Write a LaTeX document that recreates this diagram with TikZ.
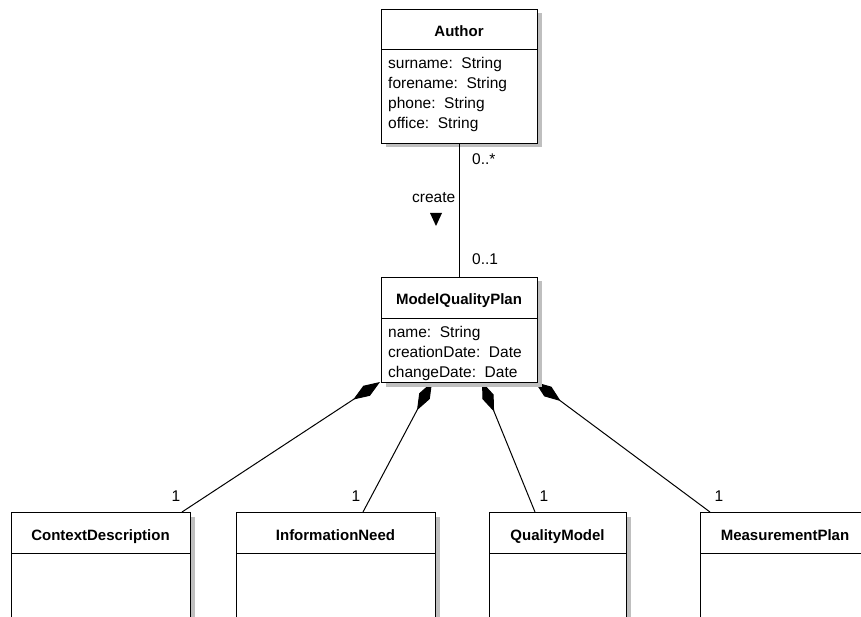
\documentclass[tikz,border=0pt]{standalone}
\usepackage{fontspec}
\setmainfont{Liberation Sans}
\usetikzlibrary{arrows.meta,shadows,calc}

\begin{document}
\begin{tikzpicture}[x=1pt,y=-1pt,
  classbox/.style={draw=black, line width=1pt, fill=white, inner sep=0pt,
    anchor=north west,
    drop shadow={shadow xshift=4pt, shadow yshift=-4pt, fill=black!25, opacity=1}},
  sepline/.style={draw=black, line width=1pt},
  classname/.style={anchor=base, inner sep=0pt, font=\bfseries\fontsize{15}{18}\selectfont},
  attr/.style={anchor=base west, inner sep=0pt, font=\fontsize{15.5}{18}\selectfont},
  mult/.style={inner sep=0pt, font=\fontsize{15.5}{18}\selectfont},
  assoc/.style={draw=black, line width=1pt},
  composition/.style={draw=black, line width=1pt, -{Diamond[length=32pt,width=12pt]}}
]
\useasboundingbox (0,0) rectangle (861,617);
\clip (0,0) rectangle (861,617);

% ---- anchor points of the compositions ----
\coordinate (w1) at (380,382);
\coordinate (w2) at (432,382);
\coordinate (w3) at (482,382);
\coordinate (w4) at (535,382);
\coordinate (cdTop)  at (182,512);
\coordinate (infTop) at (363,512);
\coordinate (qmTop)  at (535,512);
\coordinate (mpTop)  at (710,512);

% ---- compositions (drawn first, the box shadows lie over them) ----
\draw[composition] (cdTop)  -- (w1);
\draw[composition] (infTop) -- (w2);
\draw[composition] (qmTop)  -- (w3);
\draw[composition] (mpTop)  -- (w4);

% ---- class Author ----
\node[classbox, minimum width=156pt, minimum height=134pt] (author) at (381,9) {};
\draw[sepline] ($(author.north west)+(0,41)$) -- ($(author.north east)+(0,41)$);
\node[classname] (authorName) at (459,37) {Author};
\node[attr] (aSurname)  at (388,69)  {surname:\ \ String};
\node[attr] (aForename) at (388,89)  {forename:\ \ String};
\node[attr] (aPhone)    at (388,109) {phone:\ \ String};
\node[attr] (aOffice)   at (388,129) {office:\ \ String};

% ---- class ModelQualityPlan ----
\node[classbox, minimum width=156pt, minimum height=105pt] (mqp) at (381,277) {};
\draw[sepline] ($(mqp.north west)+(0,41)$) -- ($(mqp.north east)+(0,41)$);
\node[classname] (mqpName) at (459,305) {ModelQualityPlan};
\node[attr] (mName)     at (388,337) {name:\ \ String};
\node[attr] (mCreation) at (388,357) {creationDate:\ \ Date};
\node[attr] (mChange)   at (388,377) {changeDate:\ \ Date};

% ---- part classes ----
\node[classbox, minimum width=179pt, minimum height=150pt] (cd) at (11,512) {};
\draw[sepline] ($(cd.north west)+(0,41)$) -- ($(cd.north east)+(0,41)$);
\node[classname] (cdName) at (100.5,540) {ContextDescription};

\node[classbox, minimum width=199pt, minimum height=150pt] (inf) at (236,512) {};
\draw[sepline] ($(inf.north west)+(0,41)$) -- ($(inf.north east)+(0,41)$);
\node[classname] (infName) at (335.5,540) {InformationNeed};

\node[classbox, minimum width=137pt, minimum height=150pt] (qm) at (489,512) {};
\draw[sepline] ($(qm.north west)+(0,41)$) -- ($(qm.north east)+(0,41)$);
\node[classname] (qmName) at (557.5,540) {QualityModel};

\node[classbox, minimum width=170pt, minimum height=150pt] (mp) at (700,512) {};
\draw[sepline] ($(mp.north west)+(0,41)$) -- ($(mp.north east)+(0,41)$);
\node[classname] (mpName) at (785,540) {MeasurementPlan};

% ---- association Author -- ModelQualityPlan ----
\draw[assoc] (author.south) -- (mqp.north);
\node[mult, anchor=base west] (mAuthorEnd) at (472,165) {0..*};
\node[mult, anchor=base west] (mPlanEnd)   at (472,265) {0..1};
\node[mult, anchor=base] (createLabel) at (433.7,203) {create};
\fill[black] (430,213) -- (442,213) -- (436,226) -- cycle;

% ---- multiplicities of the parts ----
\node[mult, anchor=base] (cdMult)  at (176,501) {1};
\node[mult, anchor=base] (infMult) at (356,501) {1};
\node[mult, anchor=base] (qmMult)  at (544,501) {1};
\node[mult, anchor=base] (mpMult)  at (719,501) {1};
\end{tikzpicture}
\end{document}
